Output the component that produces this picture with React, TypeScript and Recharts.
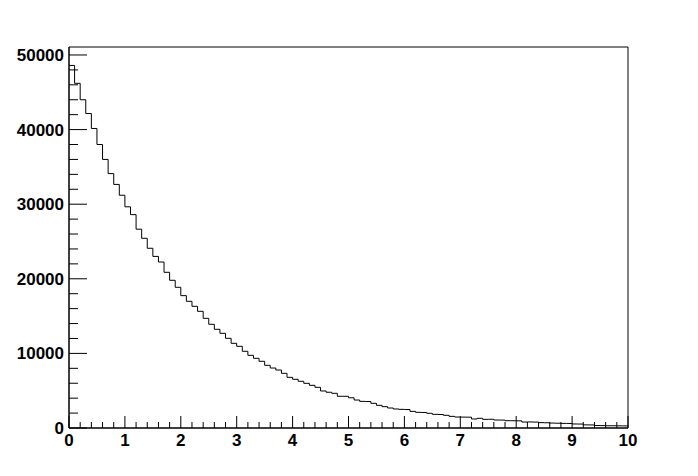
import { LineChart, Line, XAxis, YAxis, ReferenceArea } from 'recharts';

// histogram contents, 100 bins of width 0.1 on [0, 10]
const BIN_WIDTH = 0.1;
const COUNTS = [
  48600, 46200, 44000, 42150, 40150, 38000, 36000, 34100, 32650, 31200,
  29650, 28600, 26650, 25430, 24090, 23000, 22250, 20870, 19800, 18860,
  17740, 16980, 16310, 15640, 14700, 13900, 13230, 12690, 12020, 11350,
  10950, 10280, 9740, 9340, 8940, 8400, 8040, 7770, 7330, 6790,
  6530, 6260, 5990, 5720, 5450, 4960, 4790, 4650, 4250, 4250,
  4050, 3750, 3570, 3550, 3310, 3040, 2860, 2680, 2550, 2500,
  2480, 2230, 2100, 2080, 1970, 1830, 1810, 1700, 1560, 1470,
  1460, 1450, 1210, 1300, 1160, 1170, 1070, 1060, 980, 970,
  960, 800, 810, 790, 720, 700, 660, 640, 620, 610,
  540, 530, 420, 410, 330, 320, 300, 300, 290, 280,
];

const X_TICKS = [
  0, 0.2, 0.4, 0.6, 0.8, 1, 1.2, 1.4, 1.6, 1.8, 2, 2.2, 2.4, 2.6, 2.8,
  3, 3.2, 3.4, 3.6, 3.8, 4, 4.2, 4.4, 4.6, 4.8, 5, 5.2, 5.4, 5.6, 5.8,
  6, 6.2, 6.4, 6.6, 6.8, 7, 7.2, 7.4, 7.6, 7.8, 8, 8.2, 8.4, 8.6, 8.8,
  9, 9.2, 9.4, 9.6, 9.8, 10,
];
const Y_TICKS = [
  0, 2000, 4000, 6000, 8000, 10000, 12000, 14000, 16000, 18000, 20000,
  22000, 24000, 26000, 28000, 30000, 32000, 34000, 36000, 38000, 40000,
  42000, 44000, 46000, 48000, 50000,
];
const Y_MAX = 51070;

// step line: one point per lower bin edge, plus the upper edge of the last bin
const data = COUNTS.map((c, i) => ({ x: i * BIN_WIDTH, y: c }));
data.push({ x: COUNTS.length * BIN_WIDTH, y: COUNTS[COUNTS.length - 1] });

const FONT = '"Liberation Sans", Arial, Helvetica, sans-serif';

const isMajor = (v: number, step: number) => Math.abs(v / step - Math.round(v / step)) < 1e-6;

function XTick(props: any) {
  const { x, y, payload } = props;
  const major = isMajor(payload.value, 1);
  return (
    <g>
      <line x1={x} x2={x} y1={y} y2={y - (major ? 12 : 6)} stroke="#000" strokeWidth={1} />
      {major && (
        <text x={x} y={y + 18} textAnchor="middle" fontFamily={FONT} fontWeight="bold" fontSize={17} fill="#000">
          {payload.value}
        </text>
      )}
    </g>
  );
}

function YTick(props: any) {
  const { x, y, payload } = props;
  const major = isMajor(payload.value, 10000);
  return (
    <g>
      <line x1={x} x2={x + (major ? 18 : 9)} y1={y} y2={y} stroke="#000" strokeWidth={1} />
      {major && (
        <text x={x - 5} y={y + 6} textAnchor="end" fontFamily={FONT} fontWeight="bold" fontSize={17} fill="#000">
          {payload.value}
        </text>
      )}
    </g>
  );
}

export default function App() {
  return (
    <div style={{ width: 690, height: 468, background: '#fff' }}>
      <LineChart width={690} height={468} data={data} margin={{ top: 39, right: 70, left: 0, bottom: 18 }}>
        <XAxis
          dataKey="x"
          type="number"
          domain={[0, 10]}
          ticks={X_TICKS}
          interval={0}
          height={30}
          tickSize={0}
          tickMargin={0}
          tickLine={false}
          axisLine={{ stroke: '#000' }}
          tick={<XTick />}
        />
        <YAxis
          type="number"
          domain={[0, Y_MAX]}
          ticks={Y_TICKS}
          interval={0}
          width={61}
          tickSize={0}
          tickMargin={0}
          tickLine={false}
          axisLine={{ stroke: '#000' }}
          tick={<YTick />}
        />
        <ReferenceArea x1={0} x2={10} y1={0} y2={Y_MAX} fill="none" stroke="#000" strokeWidth={1} fillOpacity={0} ifOverflow="visible" />
        <Line
          type="stepAfter"
          dataKey="y"
          stroke="#000"
          strokeWidth={1}
          dot={false}
          activeDot={false}
          isAnimationActive={false}
        />
      </LineChart>
    </div>
  );
}
